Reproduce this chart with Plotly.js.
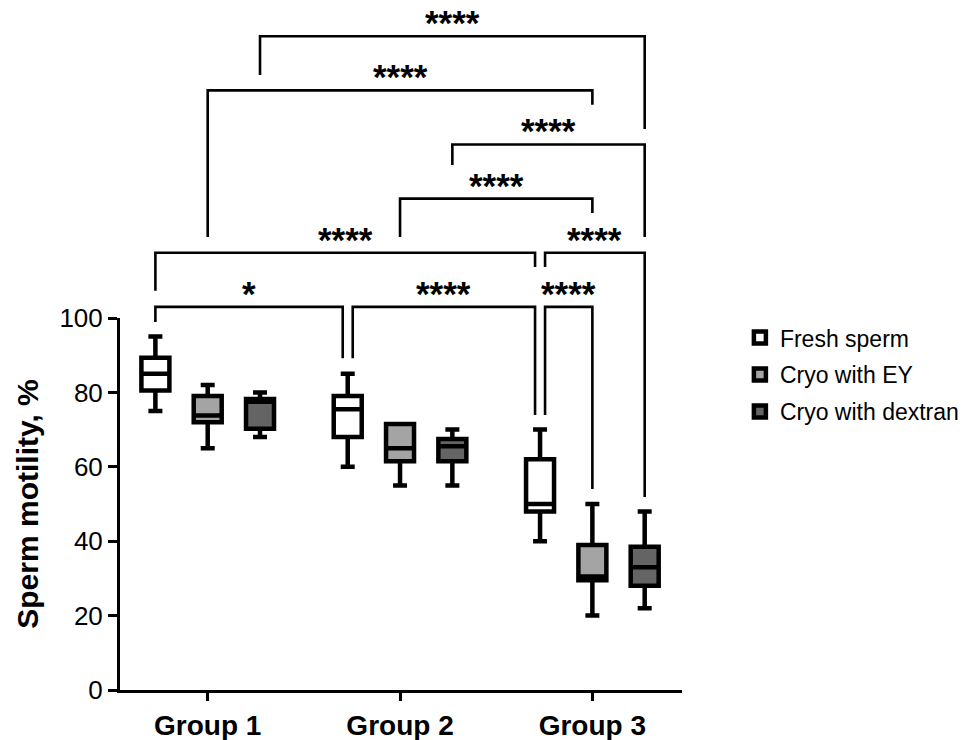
<!DOCTYPE html>
<html>
<head>
<meta charset="utf-8">
<script src="https://cdn.plot.ly/plotly-3.0.1.min.js"></script>
<style>html,body{margin:0;padding:0;background:#fff;}#chart{width:970px;height:740px;}</style>
</head>
<body>
<div id="chart"></div>
<script>
// ---------- data ----------
const groups = ['Group 1', 'Group 2', 'Group 3'];
const seriesNames = ['Fresh sperm', 'Cryo with EY', 'Cryo with dextran'];

const freshMin    = [75, 60, 40];
const freshQ1     = [80.5, 68, 48];
const freshMedian = [85, 75.5, 50];
const freshQ3     = [89.3, 79, 62];
const freshMax    = [95, 85, 70];

const eyMin    = [65, 55, 20];
const eyQ1     = [72, 61.5, 29.5];
const eyMedian = [73.8, 65, 30.5];
const eyQ3     = [79, 71.5, 39];
const eyMax    = [82, 71.5, 50];

const dexMin    = [68, 55, 22];
const dexQ1     = [70.2, 61.5, 28];
const dexMedian = [77.5, 65.5, 33];
const dexQ3     = [78.2, 67.5, 38.5];
const dexMax    = [80, 70, 48];

// comparisons: [groupA, seriesA, groupB, seriesB, label]
const comparisons = [
  [0, 0, 1, 0, '*'],
  [1, 0, 2, 0, '****'],
  [2, 0, 2, 1, '****'],
  [0, 0, 2, 0, '****'],
  [2, 0, 2, 2, '****'],
  [1, 1, 2, 1, '****'],
  [1, 2, 2, 2, '****'],
  [0, 1, 2, 1, '****'],
  [0, 2, 2, 2, '****']
];

// ---------- styling / layout ----------
const BOXGAP = 0.184, BOXGROUPGAP = 0.465;
const SERIES_OFF = (1 - BOXGAP) / 3;
const fills = ['#ffffff', '#a4a4a4', '#646464'];
const X_RANGE = [-0.456, 2.466];
const Y_MAX = 100;
const PLOT_W = 970 - 120 - 288;
const PX_PER_X = PLOT_W / (X_RANGE[1] - X_RANGE[0]);

const stats = [
  [freshMin, freshQ1, freshMedian, freshQ3, freshMax],
  [eyMin, eyQ1, eyMedian, eyQ3, eyMax],
  [dexMin, dexQ1, dexMedian, dexQ3, dexMax]
];
const xIdx = groups.map((g, i) => i);

const traces = stats.map((s, k) => ({
  type: 'box',
  name: seriesNames[k],
  legendgroup: 'g' + k,
  x: xIdx,
  lowerfence: s[0], q1: s[1], median: s[2], q3: s[3], upperfence: s[4],
  boxpoints: false,
  fillcolor: fills[k],
  line: {color: '#000000', width: 4.5},
  whiskerwidth: 0.5,
  hoverinfo: 'skip'
}));

// bracket geometry (data units), per comparison
const bracketLevel = [0, 0, 0, 1, 1, 2, 3, 4, 5];
const LEVEL0 = 103, LEVEL_STEP = 14.55;
const legBottoms = [[98.9, 89.2], [89.2, 73.9], [73.9, 54], [107.3, 113.7], [113.7, 51.9],
                    [121.8, 128.2], [141.1, 121.8], [121.8, 157.3], [165.3, 150.8]];
const legNudgePx = [[0, -5], [5, -5], [5, 0], [0, -5], [5, 0], [0, 0], [0, 0], [0, 0], [0, 0]];

const shapes = [];
const annotations = [];
const yp = v => v / Y_MAX;
comparisons.forEach((c, i) => {
  const xa = c[0] + (c[1] - 1) * SERIES_OFF + legNudgePx[i][0] / PX_PER_X;
  const xb = c[2] + (c[3] - 1) * SERIES_OFF + legNudgePx[i][1] / PX_PER_X;
  const lv = LEVEL0 + LEVEL_STEP * bracketLevel[i];
  const path = 'M' + xa + ',' + yp(legBottoms[i][0]) + ' L' + xa + ',' + yp(lv) +
               ' L' + xb + ',' + yp(lv) + ' L' + xb + ',' + yp(legBottoms[i][1]);
  shapes.push({type: 'path', xref: 'x', yref: 'paper', path: path,
               line: {color: '#000000', width: 2.6}, layer: 'above'});
  annotations.push({xref: 'x', yref: 'paper', x: (xa + xb) / 2, y: yp(lv),
                    yanchor: 'bottom', xanchor: 'center', showarrow: false, yshift: -8,
                    text: c[4], font: {family: 'Liberation Sans, Arial', size: 35, weight: 700, color: '#000'}});
});

const layout = {
  width: 970, height: 740,
  margin: {l: 120, r: 288, t: 318, b: 50, autoexpand: false},
  paper_bgcolor: '#ffffff', plot_bgcolor: '#ffffff',
  font: {family: 'Liberation Sans, Arial, sans-serif', color: '#000000'},
  boxmode: 'group', boxgap: BOXGAP, boxgroupgap: BOXGROUPGAP,
  showlegend: true,
  legend: {x: 1.103, xanchor: 'left', y: 1.005, yanchor: 'top',
           font: {size: 23, color: '#000'}, bgcolor: 'rgba(0,0,0,0)', tracegroupgap: 4},
  xaxis: {
    range: X_RANGE, tickvals: xIdx, ticktext: groups,
    showline: true, linecolor: '#000', linewidth: 3,
    ticks: 'outside', ticklen: 8, tickwidth: 3, tickcolor: '#000',
    tickfont: {size: 28, weight: 700, color: '#000'},
    showgrid: false, zeroline: false, fixedrange: true
  },
  yaxis: {
    range: [0, Y_MAX], tickvals: [0, 20, 40, 60, 80, 100],
    showline: true, linecolor: '#000', linewidth: 3,
    ticks: 'outside', ticklen: 9, tickwidth: 3, tickcolor: '#000',
    tickfont: {size: 26, color: '#000'},
    title: {text: 'Sperm motility, %', font: {size: 30, weight: 700, color: '#000'}, standoff: 12},
    showgrid: false, zeroline: false, fixedrange: true
  },
  shapes: shapes,
  annotations: annotations
};

Plotly.newPlot('chart', traces, layout, {displayModeBar: false, staticPlot: true});
</script>
</body>
</html>
